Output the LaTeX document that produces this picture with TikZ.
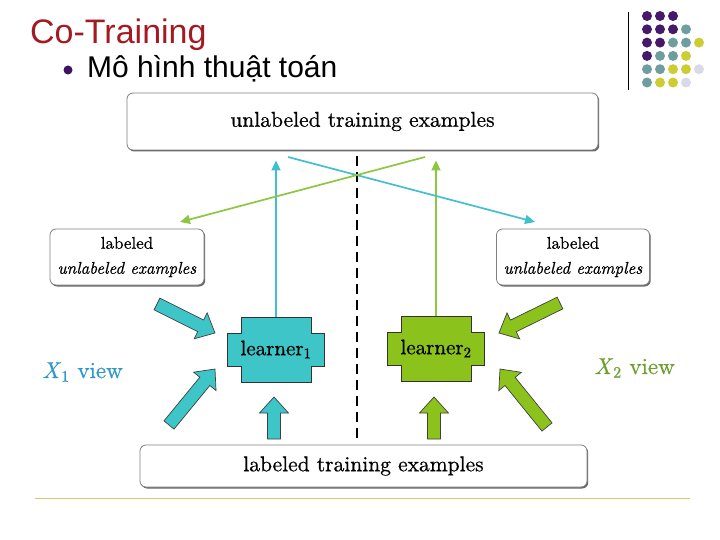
\documentclass[tikz,border=0pt]{standalone}
\usepackage{fontspec}
\newfontfamily\arialfont{Liberation Sans}
\newfontfamily\diagfont{lmroman10}[Extension=.otf, UprightFont=*-regular,
  ItalicFont=*-italic, FakeBold=0.6]
\usetikzlibrary{arrows.meta,shadows,calc}

\definecolor{titlered}{HTML}{A31A22}
\definecolor{bulletpurple}{HTML}{3C1463}
\definecolor{dotP}{HTML}{46196A}
\definecolor{dotT}{HTML}{6E9EA0}
\definecolor{dotY}{HTML}{CCCC33}
\definecolor{dotL}{HTML}{D9D9EA}
\definecolor{tealfill}{HTML}{3DC5C8}
\definecolor{tealline}{HTML}{40C0CC}
\definecolor{greenfill}{HTML}{8CC21C}
\definecolor{greenline}{HTML}{8DC63F}
\definecolor{xoneblue}{HTML}{3098C8}
\definecolor{xtwogreen}{HTML}{6E9E2E}
\definecolor{rulecol}{HTML}{CCCC70}

\tikzset{
  box/.style={draw=black!50, line width=0.8pt, fill=white, rounded corners=6pt,
    drop shadow={shadow xshift=1.2pt, shadow yshift=-1.5pt, fill=black!60, opacity=1},
    inner sep=0pt},
  thinarrow/.style={line width=1.7pt, -{Triangle[length=10pt,width=9pt]}},
  learnertext/.style={font=\diagfont\fontsize{21}{24}\selectfont, minimum width=97pt,
    minimum height=65pt, inner sep=0pt}
}

% cross shaped learner box: x, y, colour
\newcommand{\crossbox}[3]{%
  \begin{scope}[shift={(#1,#2)}]
    \draw[fill=#3, draw=black!80, line width=0.8pt]
      (-35,-32.5) -- (35,-32.5) -- (35,-16.5) -- (48.5,-16.5) -- (48.5,17)
      -- (35,17) -- (35,32.5) -- (-35,32.5) -- (-35,17) -- (-48.5,17)
      -- (-48.5,-16.5) -- (-35,-16.5) -- cycle;
  \end{scope}}

% fat block arrow: from, to, colour
\newcommand{\fatarrow}[3]{%
  \draw[fill=#3, draw=black!75, line width=0.7pt]
    let \p1=($(#2)-(#1)$), \n1={atan2(\y1,\x1)}, \n2={veclen(\x1,\y1)} in
    [shift={(#1)}, rotate=\n1]
    (0,-6.5) -- (\n2-16,-6.5) -- (\n2-16,-14.5) -- (\n2,0) -- (\n2-16,14.5)
    -- (\n2-16,6.5) -- (0,6.5) -- cycle;}

\begin{document}
\begin{tikzpicture}[x=1pt,y=-1pt]
\useasboundingbox (0,0) rectangle (720,540);

% heading
\node[anchor=base west, inner sep=0pt, text=titlered,
  font=\arialfont\fontsize{34}{38}\selectfont] (title) at (30,44) {Co-Training};
\fill[bulletpurple] (68,70) circle (4.5);
\node[anchor=base west, inner sep=0pt,
  font=\arialfont\fontsize{30}{34}\selectfont] (sub) at (87,78) {Mô hình thuật toán};

% corner logo
\draw[line width=1pt] (628,12) -- (628,90);
\foreach \row [count=\j from 0] in {{P,P,P},{P,P,P,T},{P,P,T,T,Y},{P,T,T,Y},{T,T,Y,Y,L},{T,Y,Y,L}}
  \foreach \c [count=\i from 0] in \row
    \fill[dot\c] ({647+13*\i},{16+13.3*\j}) circle (5);

% boxes
\node[box, minimum width=471pt, minimum height=57pt,
  font=\diagfont\fontsize{21.5}{25}\selectfont] (unlab) at (362.5,121.5) {unlabeled training examples};
\node[box, minimum width=447pt, minimum height=42pt,
  font=\diagfont\fontsize{21.5}{25}\selectfont] (lab) at (363.5,466) {labeled training examples};
\node[box, minimum width=154pt, minimum height=56pt, align=center,
  font=\diagfont\fontsize{17}{25}\selectfont] (lbox) at (127,257) {labeled\\\textit{unlabeled examples}};
\node[box, minimum width=153pt, minimum height=56pt, align=center,
  font=\diagfont\fontsize{17}{25}\selectfont] (rbox) at (573,257) {labeled\\\textit{unlabeled examples}};

% learners
\crossbox{276}{349.5}{tealfill}
\node[learnertext] (lrn1) at (276,349.5) {learner\textsubscript{1}};
\crossbox{436}{348.5}{greenfill}
\node[learnertext] (lrn2) at (436,348.5) {learner\textsubscript{2}};

% views
\node[anchor=base west, inner sep=0pt, text=xoneblue,
  font=\diagfont\fontsize{23}{26}\selectfont] (xone) at (42,378) {\textit{X}\textsubscript{1} view};
\node[anchor=base west, inner sep=0pt, text=xtwogreen,
  font=\diagfont\fontsize{23}{26}\selectfont] (xtwo) at (594,374) {\textit{X}\textsubscript{2} view};

% divider
\coordinate (dtop) at (357,156);
\coordinate (dbot) at (357,444);
\draw[line width=2.6pt, dash pattern=on 10pt off 6pt] (dtop) -- (dbot);

% thin arrows
\draw[thinarrow, tealline, shorten >=10pt] (lrn1.north) -- (lrn1.north |- unlab.south);
\draw[thinarrow, greenline, shorten >=10pt] (lrn2.north) -- (lrn2.north |- unlab.south);
\coordinate (tA) at (288,157);
\coordinate (tB) at (535,222);
\coordinate (gA) at (425,157);
\coordinate (gB) at (180,222);
\draw[thinarrow, tealline] (tA) -- (tB);
\draw[thinarrow, greenline] (gA) -- (gB);

% block arrows
\coordinate (l1a) at (157,304);
\coordinate (l1b) at (215,333);
\coordinate (l2a) at (169,425);
\coordinate (l2b) at (215,369);
\coordinate (l3a) at (274,439);
\coordinate (l3b) at (274,397);
\coordinate (r1a) at (560,303);
\coordinate (r1b) at (499,333);
\coordinate (r2a) at (547,427);
\coordinate (r2b) at (500,369);
\coordinate (r3a) at (434,439);
\coordinate (r3b) at (434,397);
\fatarrow{l1a}{l1b}{tealfill}
\fatarrow{l2a}{l2b}{tealfill}
\fatarrow{l3a}{l3b}{tealfill}
\fatarrow{r1a}{r1b}{greenfill}
\fatarrow{r2a}{r2b}{greenfill}
\fatarrow{r3a}{r3b}{greenfill}

% bottom rule
\draw[rulecol, line width=1pt] (35,498) -- (690,498);
\end{tikzpicture}
\end{document}
